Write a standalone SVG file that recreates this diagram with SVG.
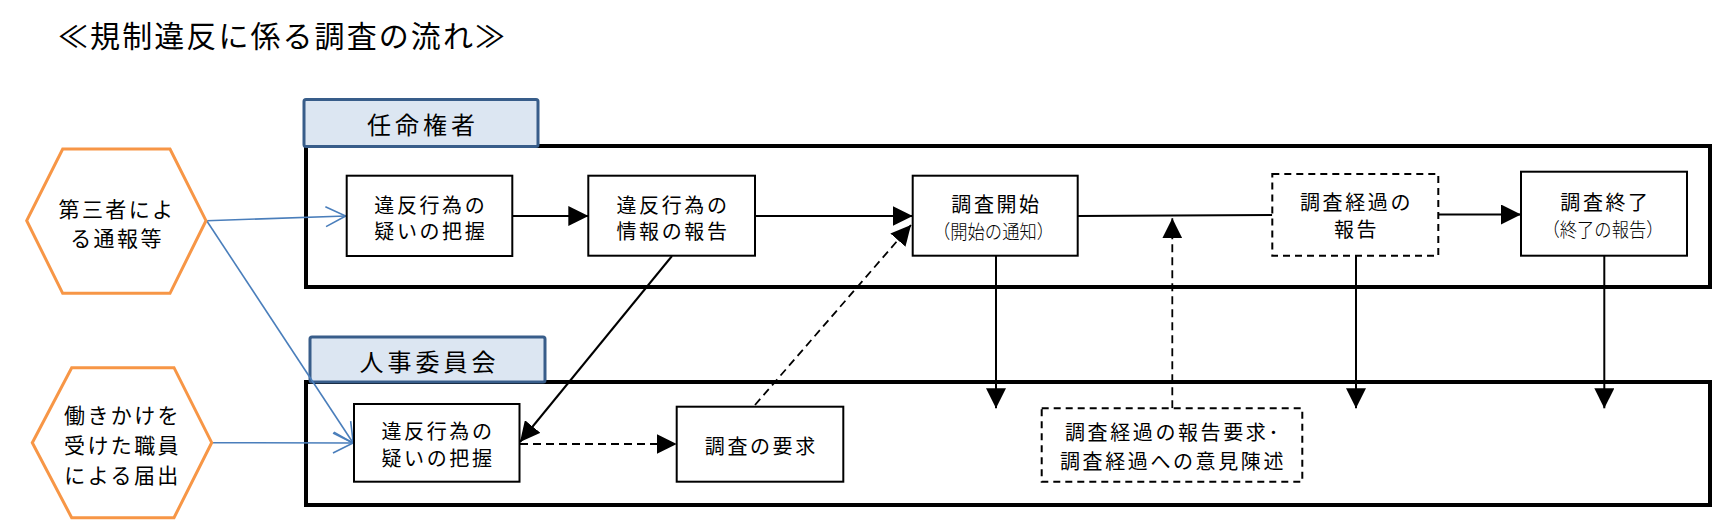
<svg xmlns="http://www.w3.org/2000/svg" width="1712" height="520" viewBox="0 0 1712 520">
  <style>
    text { font-family: "Noto Sans CJK JP", "Noto Sans CJK SC", sans-serif; fill: #000; dominant-baseline: central; }
    .t { font-size: 20px; letter-spacing: 2.6px; text-anchor: middle; }
    .x { font-size: 21px; letter-spacing: 2.4px; text-anchor: middle; }
    .s { font-size: 19px; text-anchor: middle; font-weight: 300; }
    .h { font-size: 24px; letter-spacing: 4px; text-anchor: middle; }
    .hex { fill: #fff; stroke: #f79646; stroke-width: 3; }
    .hdr { fill: #dce6f2; stroke: #385d8a; stroke-width: 3; }
    .panel { fill: none; stroke: #000; stroke-width: 4; }
    .box { fill: #fff; stroke: #000; stroke-width: 2; }
    .dbox { fill: #fff; stroke: #000; stroke-width: 2; stroke-dasharray: 7 5; }
    .ln { fill: none; stroke: #000; stroke-width: 2; }
    .dl { fill: none; stroke: #000; stroke-width: 1.8; stroke-dasharray: 8 5; }
    .bl { fill: none; stroke: #4a7ebb; stroke-width: 1.6; }
  </style>
  <defs>
    <marker id="ah" markerUnits="userSpaceOnUse" markerWidth="20" markerHeight="20" viewBox="0 0 20 20" refX="20" refY="10" orient="auto">
      <path d="M0,0 L20,10 L0,20 z" fill="#000"/>
    </marker>
    <marker id="oh" markerUnits="userSpaceOnUse" markerWidth="24" markerHeight="24" viewBox="-2 -2 24 24" refX="20" refY="10" orient="auto">
      <path d="M0,0 L20,10 L0,20" fill="none" stroke="#4a7ebb" stroke-width="1.6"/>
    </marker>
  </defs>

  <text id="title" x="58" y="34" font-size="30" textLength="447" lengthAdjust="spacing">≪規制違反に係る調査の流れ≫</text>

  <g id="panel-top">
    <rect class="panel" x="306" y="146" width="1404" height="141"/>
  </g>
  <g id="panel-bottom">
    <rect class="panel" x="306" y="382" width="1404" height="123"/>
  </g>
  <g id="header-ninmei">
    <rect class="hdr" x="304" y="99.5" width="234" height="47" rx="2"/>
    <text class="h" x="423" y="123">任命権者</text>
  </g>
  <g id="header-jinji">
    <rect class="hdr" x="310" y="337" width="235" height="45" rx="2"/>
    <text class="h" x="429.5" y="360">人事委員会</text>
  </g>

  <g id="connectors">
    <line class="bl" x1="206.7" y1="220.7" x2="345.7" y2="216" marker-end="url(#oh)"/>
    <line class="bl" x1="206.7" y1="220.7" x2="353.3" y2="443.3" marker-end="url(#oh)"/>
    <line class="bl" x1="211.7" y1="442.7" x2="353" y2="443" marker-end="url(#oh)"/>
    <line class="ln" x1="512.3" y1="216" x2="588.3" y2="216" marker-end="url(#ah)"/>
    <line class="ln" x1="755" y1="216" x2="912.7" y2="216" marker-end="url(#ah)"/>
    <line class="ln" x1="1077.7" y1="216" x2="1272.3" y2="215" stroke-width="1.8"/>
    <line class="ln" x1="1438.3" y1="214.5" x2="1521" y2="214.5" marker-end="url(#ah)"/>
    <line class="ln" x1="672" y1="256" x2="520" y2="442" stroke-width="1.6" marker-end="url(#ah)"/>
    <line class="dl" x1="520" y1="444" x2="676.7" y2="444" marker-end="url(#ah)"/>
    <line class="dl" x1="755" y1="405" x2="911" y2="225" marker-end="url(#ah)"/>
    <line class="ln" x1="996" y1="256" x2="996" y2="408.3" marker-end="url(#ah)"/>
    <line class="ln" x1="1356" y1="256" x2="1356" y2="408.3" marker-end="url(#ah)"/>
    <line class="ln" x1="1604.3" y1="256" x2="1604.3" y2="408.3" marker-end="url(#ah)"/>
    <line class="dl" x1="1172.3" y1="408.3" x2="1172.3" y2="218.3" marker-end="url(#ah)"/>
  </g>

  <g id="hex-daisansha">
    <polygon class="hex" points="26.7,220.7 62.7,149 170,149 206,220.7 170,293.3 62.7,293.3"/>
    <text class="x" x="117" y="208">第三者によ</text>
    <text class="x" x="117" y="237">る通報等</text>
  </g>
  <g id="hex-hatarakikake">
    <polygon class="hex" points="32.3,442.7 71.7,367.7 174,367.7 211.7,442.7 174,517.7 71.7,517.7"/>
    <text class="x" x="122.5" y="414">働きかけを</text>
    <text class="x" x="122.5" y="444">受けた職員</text>
    <text class="x" x="122.5" y="474">による届出</text>
  </g>

  <g id="box-haaku-top">
    <rect class="box" x="346.7" y="175.7" width="165.6" height="80.3"/>
    <text class="t" x="430.8" y="204.3">違反行為の</text>
    <text class="t" x="430.8" y="230">疑いの把握</text>
  </g>
  <g id="box-houkoku">
    <rect class="box" x="588.3" y="175.7" width="166.7" height="80"/>
    <text class="t" x="673" y="204.3">違反行為の</text>
    <text class="t" x="673" y="230">情報の報告</text>
  </g>
  <g id="box-kaishi">
    <rect class="box" x="912.7" y="175.7" width="165" height="80"/>
    <text class="t" x="996.5" y="203">調査開始</text>
    <text class="s" x="993.5" y="230" textLength="121" lengthAdjust="spacingAndGlyphs">（開始の通知）</text>
  </g>
  <g id="box-keika">
    <rect class="dbox" x="1272.3" y="174" width="166" height="81.7"/>
    <text class="t" x="1356.5" y="201.5">調査経過の</text>
    <text class="t" x="1356.5" y="228.3">報告</text>
  </g>
  <g id="box-shuryo">
    <rect class="box" x="1521" y="171.7" width="166" height="84"/>
    <text class="t" x="1605.5" y="201.5">調査終了</text>
    <text class="s" x="1603" y="228.3" textLength="121" lengthAdjust="spacingAndGlyphs">（終了の報告）</text>
  </g>
  <g id="box-haaku-bottom">
    <rect class="box" x="354" y="404" width="165.5" height="77.7"/>
    <text class="t" x="438" y="430">違反行為の</text>
    <text class="t" x="438" y="457">疑いの把握</text>
  </g>
  <g id="box-yokyu">
    <rect class="box" x="676.7" y="406.7" width="166.6" height="75"/>
    <text class="t" x="761.3" y="445">調査の要求</text>
  </g>
  <g id="box-iken">
    <rect class="dbox" x="1041.7" y="408.3" width="260.6" height="73.4"/>
    <text class="t" x="1173" y="431.7">調査経過の報告要求･</text>
    <text class="t" x="1173" y="460">調査経過への意見陳述</text>
  </g>
</svg>
